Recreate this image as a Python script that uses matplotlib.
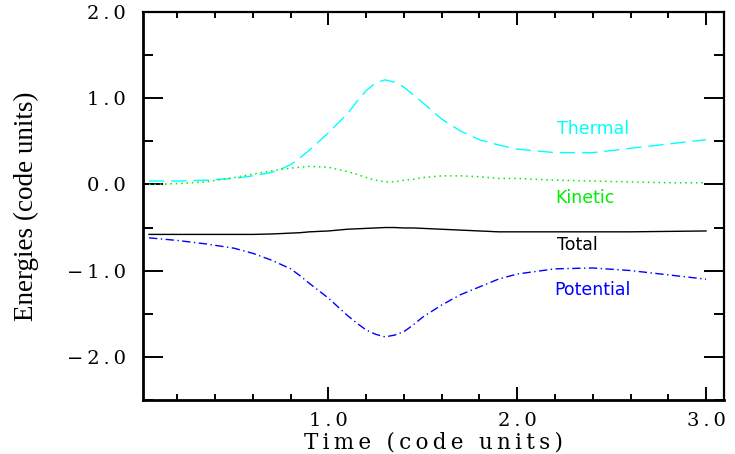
import matplotlib
matplotlib.use("Agg")
import matplotlib.pyplot as plt
from matplotlib.ticker import MultipleLocator, FixedLocator

time = [0.05, 0.2, 0.35, 0.5, 0.6, 0.7, 0.75, 0.8, 0.85, 0.9, 1.0, 1.1, 1.15, 1.2,
        1.25, 1.3, 1.35, 1.4, 1.45, 1.5, 1.6, 1.7, 1.8, 1.9, 2.0, 2.2, 2.4, 2.6,
        2.8, 3.0]
thermal = [0.04, 0.04, 0.05, 0.07, 0.10, 0.14, 0.18, 0.23, 0.31, 0.40, 0.60, 0.82,
           0.96, 1.09, 1.18, 1.215, 1.19, 1.13, 1.04, 0.95, 0.76, 0.62, 0.52, 0.46,
           0.41, 0.37, 0.37, 0.42, 0.47, 0.52]
kinetic = [0.0, 0.01, 0.03, 0.08, 0.12, 0.16, 0.175, 0.19, 0.20, 0.21, 0.20, 0.15,
           0.12, 0.08, 0.05, 0.03, 0.03, 0.05, 0.06, 0.08, 0.10, 0.10, 0.09, 0.07,
           0.07, 0.05, 0.04, 0.03, 0.02, 0.02]
total = [-0.58, -0.58, -0.58, -0.58, -0.58, -0.575, -0.57, -0.565, -0.56, -0.55,
         -0.54, -0.52, -0.515, -0.51, -0.505, -0.50, -0.50, -0.505, -0.505, -0.51,
         -0.52, -0.53, -0.54, -0.55, -0.55, -0.55, -0.55, -0.55, -0.545, -0.54]
potential = [-0.62, -0.65, -0.69, -0.74, -0.80, -0.88, -0.93, -0.98, -1.06, -1.15,
             -1.32, -1.52, -1.61, -1.69, -1.74, -1.77, -1.75, -1.71, -1.63, -1.54,
             -1.40, -1.28, -1.19, -1.10, -1.04, -0.98, -0.97, -1.00, -1.05, -1.10]

series_names = ["Thermal", "Kinetic", "Total", "Potential"]
label_pos = [(2.40, 0.65), (2.36, -0.16), (2.32, -0.70), (2.40, -1.22)]
colors = ["#00ffff", "#00ee00", "#000000", "#0000ff"]

x_ticks = [1.0, 2.0, 3.0]
y_ticks = [-2.0, -1.0, 0.0, 1.0, 2.0]

TS = "\u2009"


def spaced(s, sep=TS):
    return sep.join(s)


def fmt(v):
    s = f"{abs(v):.1f}"
    s = spaced(s)
    if v < 0:
        s = "\u2212" + TS + s
    return s


fig = plt.figure(figsize=(7.35, 4.54), dpi=100)
ax = fig.add_axes([0.194, 0.1196, 0.791, 0.8533])

ax.plot(time, thermal, color=colors[0], lw=1.0, dashes=(11, 5))
ax.plot(time, kinetic, color=colors[1], lw=1.1, dashes=(1, 2.5))
ax.plot(time, total, color=colors[2], lw=1.0, ls="-")
ax.plot(time, potential, color=colors[3], lw=1.0, dashes=(6, 2.5, 1, 2.5))

for name, (lx, ly), c in zip(series_names, label_pos, colors):
    ax.text(lx, ly, name, color=c, fontsize=12.5, family="DejaVu Sans",
            ha="center", va="center")

ax.set_xlim(0.016, 3.095)
ax.set_ylim(-2.5, 2.0)

ax.xaxis.set_major_locator(FixedLocator(x_ticks))
ax.xaxis.set_minor_locator(MultipleLocator(0.2))
ax.yaxis.set_major_locator(FixedLocator(y_ticks))
ax.yaxis.set_minor_locator(MultipleLocator(0.5))
ax.set_xticklabels([fmt(v) for v in x_ticks])
ax.set_yticklabels([fmt(v) for v in y_ticks])

ax.tick_params(axis="x", which="major", direction="in", length=9.5, width=1.4,
               top=True, bottom=True, pad=9, labelsize=14)
ax.tick_params(axis="x", which="minor", direction="in", length=4.5, width=1.4,
               top=True, bottom=True)
ax.tick_params(axis="y", which="major", direction="in", length=14.4, width=1.4,
               left=True, right=True, pad=12, labelsize=14)
ax.tick_params(axis="y", which="minor", direction="in", length=7.2, width=1.4,
               left=True, right=True)
for lab in ax.get_xticklabels() + ax.get_yticklabels():
    lab.set_family("DejaVu Serif")

for side in ["left", "bottom"]:
    ax.spines[side].set_linewidth(2.0)
for side in ["right", "top"]:
    ax.spines[side].set_linewidth(1.6)

ax.set_xlabel(spaced("Time (code units)"), family="DejaVu Serif",
              fontsize=15.5, labelpad=1)
ax.set_ylabel("Energies (code units)", family="Liberation Serif", fontsize=19.5,
              labelpad=20)

fig.savefig("out.png", dpi=100)
